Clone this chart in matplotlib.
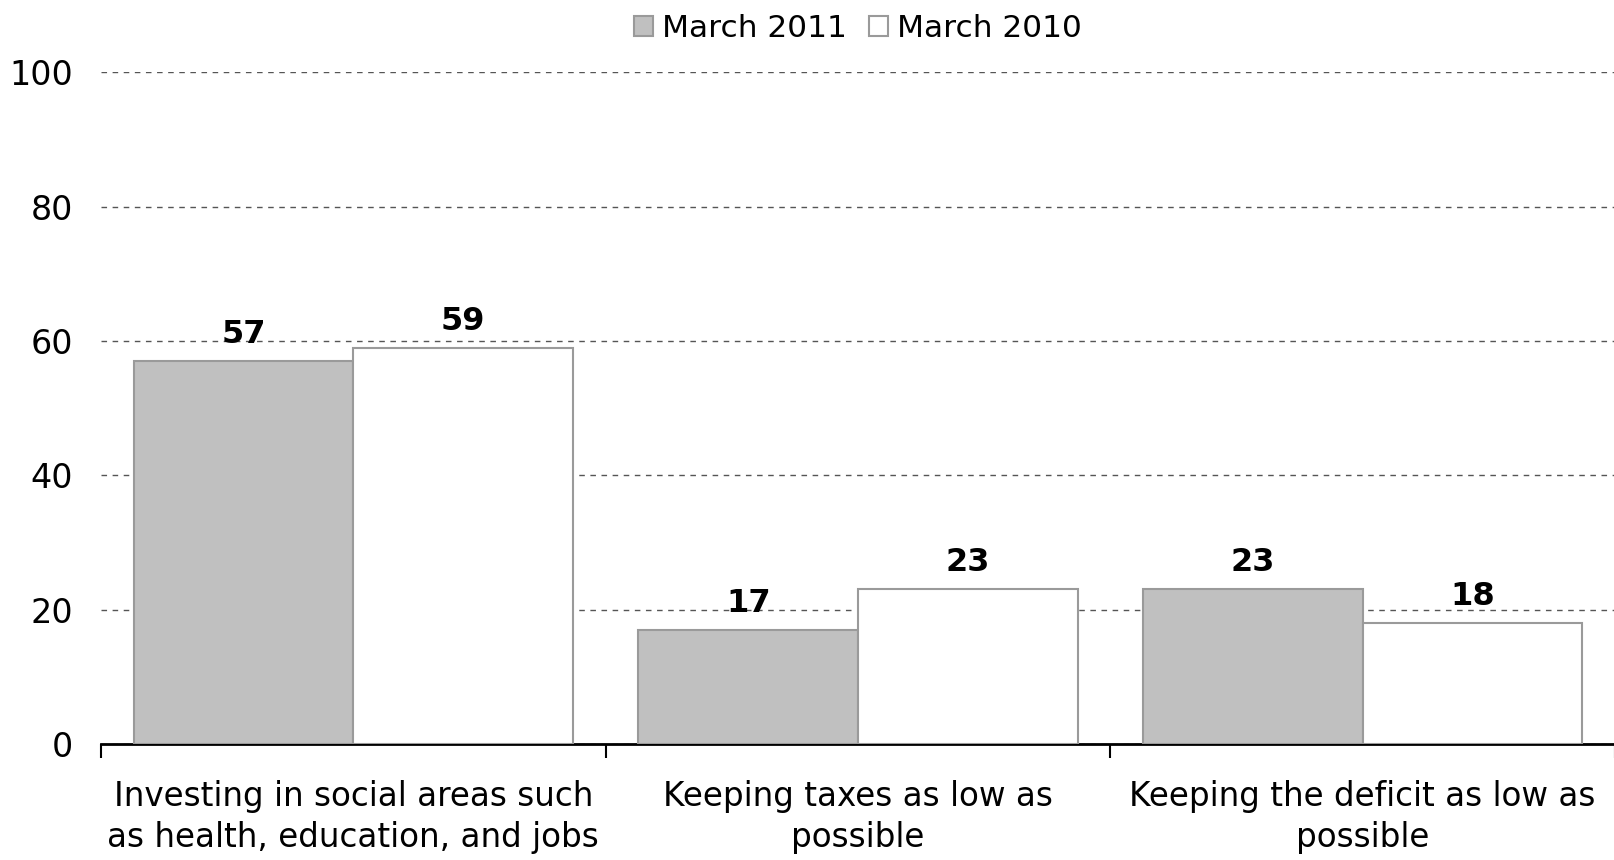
import numpy as np
import matplotlib
matplotlib.use("Agg")
from matplotlib import pyplot as plt

categories = ["Investing in social areas such\nas health, education, and jobs",
              "Keeping taxes as low as\npossible",
              "Keeping the deficit as low as\npossible"]
series_names = ["March 2011", "March 2010"]
march_2011 = [57, 17, 23]
march_2010 = [59, 23, 18]
y_ticks = [0, 20, 40, 60, 80, 100]

plt.rcParams['font.family'] = ['DejaVu Sans']

fig = plt.figure(figsize=(16.15, 8.6), dpi=100)
ax = fig.add_axes([0.0625, 0.135, 0.9375, 0.781])

x = np.arange(len(categories))
w = 0.435
fills = ["#c0c0c0", "white"]
for i, (name, vals) in enumerate(zip(series_names, [march_2011, march_2010])):
    off = (i - 0.5) * w
    bars = ax.bar(x + off, vals, width=w, color=fills[i], edgecolor="#9a9a9a",
                  linewidth=1.5, label=name, zorder=3)
    for b, v in zip(bars, vals):
        ax.annotate(str(v), (b.get_x() + b.get_width() / 2, v), xytext=(0, 8),
                    textcoords="offset points", ha="center", va="bottom",
                    fontsize=23, fontweight="bold", zorder=4)

ax.set_xlim(-0.5, len(categories) - 0.5)
ax.set_ylim(0, 100)
ax.set_yticks(y_ticks)
ax.tick_params(axis="y", length=0, labelsize=24, pad=20)
ax.yaxis.grid(True, linestyle=(0, (4, 4)), color="#555555", linewidth=1)
ax.set_axisbelow(True)

ax.set_xticks(np.arange(-0.5, len(categories), 1.0))
ax.set_xticklabels([])
ax.set_xticks(x, minor=True)
ax.set_xticklabels(categories, minor=True, fontsize=23.5, linespacing=1.3)
ax.tick_params(axis="x", which="minor", length=0, pad=26)
ax.tick_params(axis="x", which="major", length=10, width=1.5, direction="out")

for s in ["left", "right", "top"]:
    ax.spines[s].set_visible(False)
ax.spines["bottom"].set_linewidth(2)

ax.legend(loc="lower center", bbox_to_anchor=(0.5, 1.025), ncol=2, frameon=False,
          fontsize=22.5, handlelength=0.6, handleheight=0.6, handletextpad=0.3,
          columnspacing=0.7, borderaxespad=0.0)

fig.savefig("out.png", dpi=100)
